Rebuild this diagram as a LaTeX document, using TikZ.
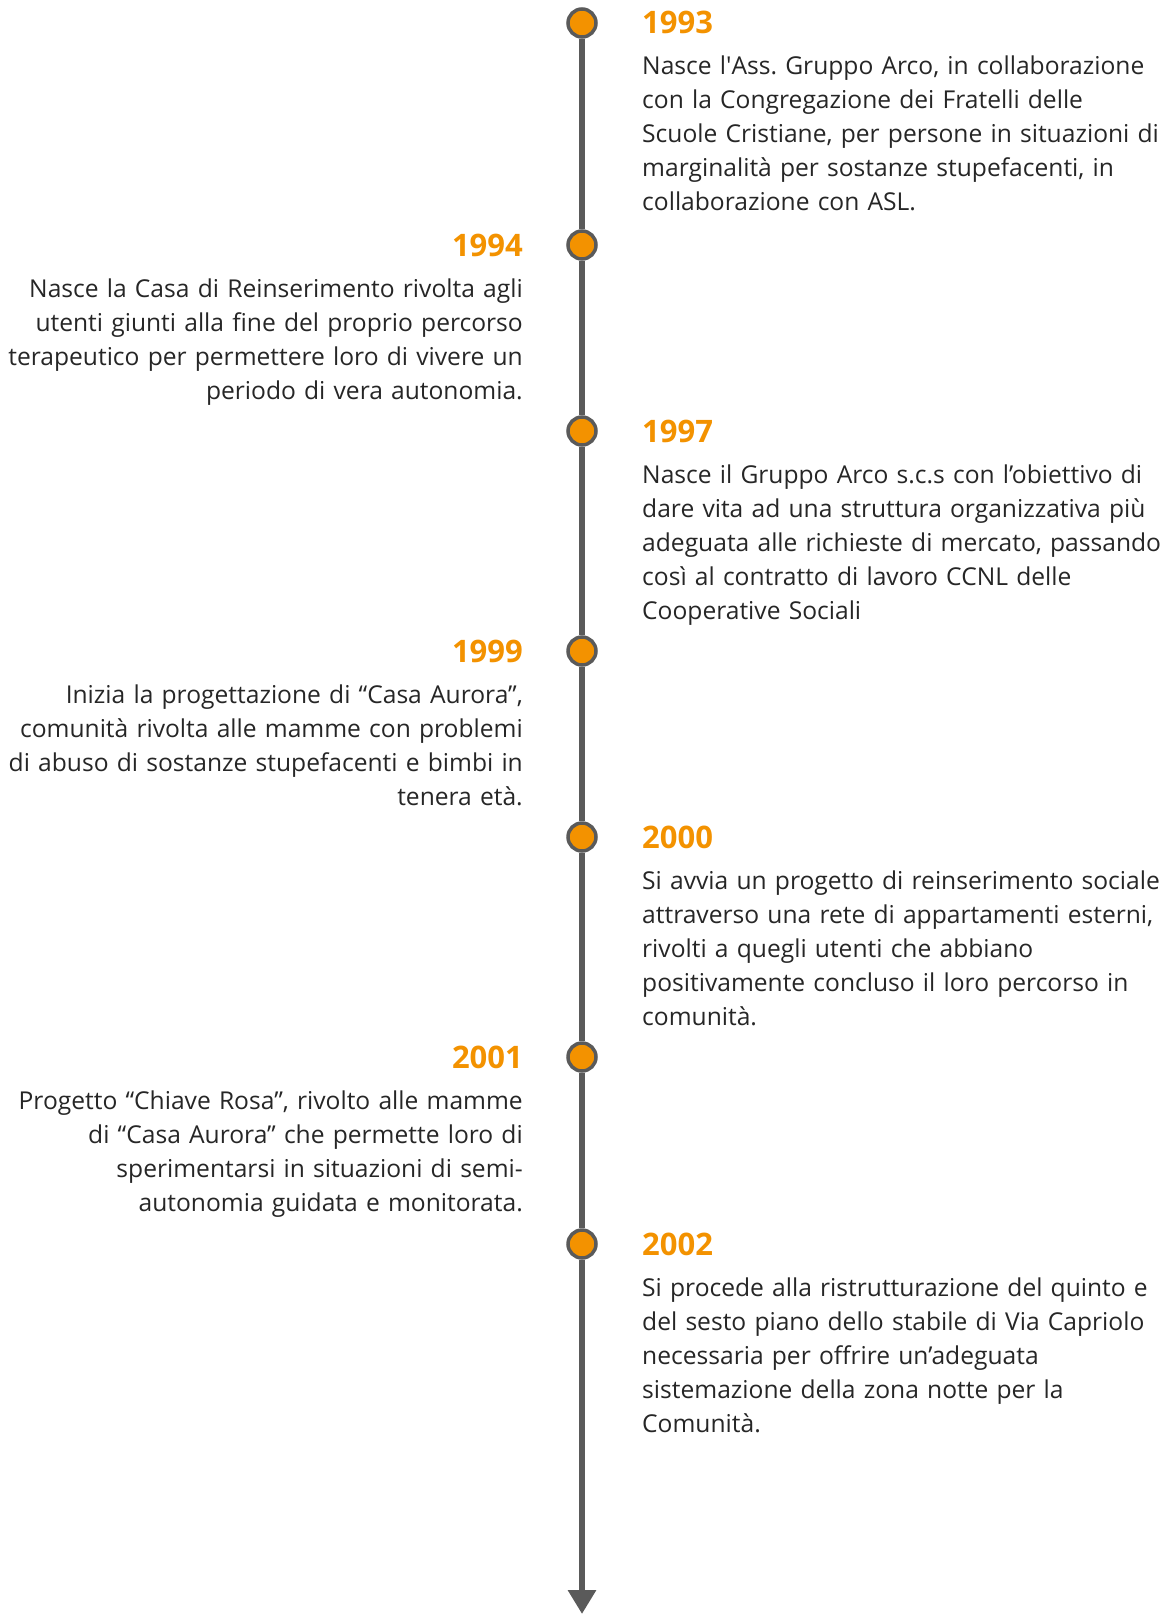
\documentclass[tikz,border=0pt]{standalone}
\usepackage{fontspec}
\setmainfont{Open Sans}
\frenchspacing
\usetikzlibrary{arrows.meta}
\definecolor{arcoorange}{RGB}{243,146,0}
\definecolor{axisgray}{RGB}{90,90,90}
\definecolor{textgray}{RGB}{38,38,38}
\tikzstyle{dot} = [circle, draw=axisgray, line width=3.5pt, fill=arcoorange, minimum size=28pt, inner sep=0pt]
\tikzstyle{year} = [text=arcoorange, font=\fontsize{31}{34}\selectfont\bfseries, inner sep=0pt]
\tikzstyle{event} = [text=textgray, font=\fontsize{24.6}{34}\selectfont, inner sep=0pt, text width=540pt]
\tikzstyle{axis} = [axisgray, line width=6pt]

\begin{document}
\begin{tikzpicture}[x=1pt, y=-1pt]
    \useasboundingbox (0,0) rectangle (1165,1616);

    % dots and years, right side
    \foreach \i/\y/\yr in {1/23/1993, 3/431/1997, 5/837/2000, 7/1244/2002} {
        \node (dot \i) [dot] at (582, \y) {};
        \node (year \i) [year, anchor=base west] at (642, \y+11) {\yr};
    }
    % dots and years, left side
    \foreach \i/\y/\yr in {2/245/1994, 4/651/1999, 6/1057/2001} {
        \node (dot \i) [dot] at (582, \y) {};
        \node (year \i) [year, anchor=base east] at (523, \y+11) {\yr};
    }

    \node (event 1) [event, anchor=base west, align=left] at ([yshift=-41pt]year 1.base west)
        {Nasce l\textquotesingle Ass. Gruppo Arco, in collaborazione\\
         con la Congregazione dei Fratelli delle\\
         Scuole Cristiane, per persone in situazioni di\\
         marginalità per sostanze stupefacenti, in\\
         collaborazione con ASL.};
    \node (event 2) [event, anchor=base east, align=right] at ([yshift=-41pt]year 2.base east)
        {Nasce la Casa di Reinserimento rivolta agli\\
         utenti giunti alla fine del proprio percorso\\
         terapeutico per permettere loro di vivere un\\
         periodo di vera autonomia.};
    \node (event 3) [event, anchor=base west, align=left] at ([yshift=-41pt]year 3.base west)
        {Nasce il Gruppo Arco s.c.s con l’obiettivo di\\
         dare vita ad una struttura organizzativa più\\
         adeguata alle richieste di mercato, passando\\
         così al contratto di lavoro CCNL delle\\
         Cooperative Sociali};
    \node (event 4) [event, anchor=base east, align=right] at ([yshift=-41pt]year 4.base east)
        {Inizia la progettazione di “Casa Aurora”,\\
         comunità rivolta alle mamme con problemi\\
         di abuso di sostanze stupefacenti e bimbi in\\
         tenera età.};
    \node (event 5) [event, anchor=base west, align=left] at ([yshift=-41pt]year 5.base west)
        {Si avvia un progetto di reinserimento sociale\\
         attraverso una rete di appartamenti esterni,\\
         rivolti a quegli utenti che abbiano\\
         positivamente concluso il loro percorso in\\
         comunità.};
    \node (event 6) [event, anchor=base east, align=right] at ([yshift=-41pt]year 6.base east)
        {Progetto “Chiave Rosa”, rivolto alle mamme\\
         di “Casa Aurora” che permette loro di\\
         sperimentarsi in situazioni di semi-\\
         autonomia guidata e monitorata.};
    \node (event 7) [event, anchor=base west, align=left] at ([yshift=-41pt]year 7.base west)
        {Si procede alla ristrutturazione del quinto e\\
         del sesto piano dello stabile di Via Capriolo\\
         necessaria per offrire un’adeguata\\
         sistemazione della zona notte per la\\
         Comunità.};

    % time axis
    \coordinate (axis end) at (582, 1614);
    \draw [axis] (dot 1) -- (dot 2) -- (dot 3) -- (dot 4) -- (dot 5) -- (dot 6) -- (dot 7);
    \draw [axis, -{Triangle[width=27pt, length=24pt]}] (dot 7) -- (axis end);
\end{tikzpicture}
\end{document}
